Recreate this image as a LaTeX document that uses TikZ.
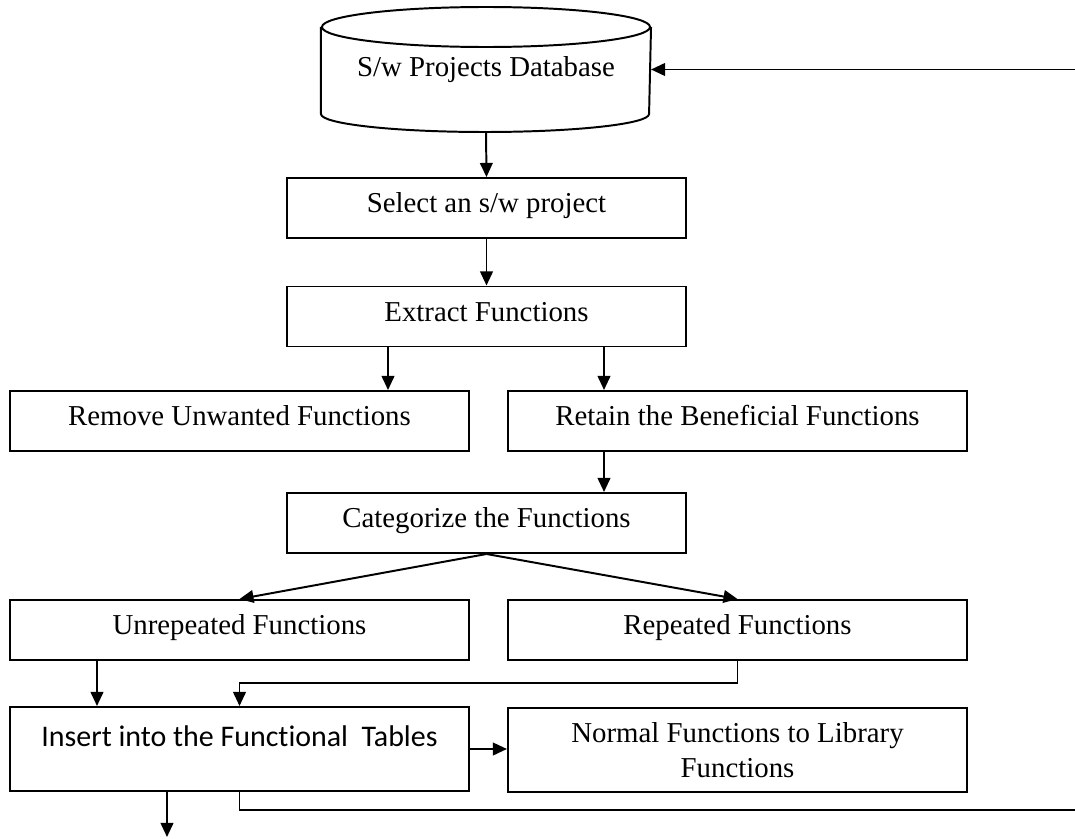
\documentclass[tikz,border=0pt]{standalone}
\usepackage{fontspec}
\setmainfont{Liberation Serif}
\newfontfamily\calibrifont[Ligatures=NoCommon]{Carlito}
\usetikzlibrary{arrows.meta,calc}

\begin{document}
\begin{tikzpicture}[
			x = 0.025cm, y = -0.025cm,
			line width = 1.4pt,
			every node/.style = {font = \fontsize{20.5}{25}\selectfont},
			procbox/.style = {draw, line width = 1.4pt, minimum height = 1.5cm, inner sep = 0pt, align = center},
			onerow/.style = {text height = 14.5pt, text depth = 8pt},
			widebox/.style = {procbox, onerow, minimum width = 11.475cm},
			midbox/.style = {procbox, onerow, minimum width = 9.975cm},
			tallbox/.style = {procbox, minimum width = 11.475cm, minimum height = 2.1cm},
			dbnode/.style = {minimum width = 8.2cm, minimum height = 3.075cm, inner sep = 0pt},
			arr/.style = {-{Triangle[length=10pt,width=9pt]}}
			]

			\useasboundingbox (0,0) rectangle (1075,839);

			% database
			\node[dbnode] (db) at (486,69.5) {S/w Projects Database};
			\draw ([yshift=-0.5cm]db.north) ellipse [x radius=4.1cm, y radius=0.5cm];
			\draw ([yshift=-0.5cm]db.north west) -- ([yshift=0.45cm]db.south west)
				arc [start angle=180, end angle=360, x radius=4.1cm, y radius=0.45cm]
				-- ([yshift=-0.5cm]db.north east);

			% steps
			\node[midbox] (sel) at (486.5,208) {Select an s/w project};
			\node[midbox] (ext) at (486.5,316.5) {Extract Functions};
			\node[widebox] (rem) at (239.5,421) {Remove Unwanted Functions};
			\node[widebox] (ret) at (737.5,421) {Retain the Beneficial Functions};
			\node[midbox] (cat) at (486.5,523) {Categorize the Functions};
			\node[widebox] (unr) at (239.5,630) {Unrepeated Functions};
			\node[widebox] (rep) at (737.5,630) {Repeated Functions};
			\node[tallbox, text height = 15pt, text depth = 18pt,
				font = \calibrifont\fontsize{21.3}{26}\selectfont] (ins) at (239.5,749) {Insert into the Functional~~Tables};
			\node[tallbox] (nor) at (737.5,750) {Normal Functions to Library\\Functions};

			% helper points
			\coordinate (xa) at (388,0);
			\coordinate (xb) at (604,0);
			\coordinate (xc) at (97,0);
			\coordinate (ya) at (0,683);
			\coordinate (stop) at (167,837);
			\coordinate (fbout) at (1075,810);
			\coordinate (fbin) at (1075,69.5);

			\draw[arr] (db.south) -- (sel.north);
			\draw[arr] (sel.south) -- (ext.north);
			\draw[arr] (ext.south -| xa) -- (rem.north -| xa);
			\draw[arr] (ext.south -| xb) -- (ret.north -| xb);
			\draw[arr] (ret.south -| xb) -- (cat.north -| xb);
			\draw[arr] (cat.south) -- (unr.north);
			\draw[arr] (cat.south) -- (rep.north);
			\draw[arr] (unr.south -| xc) -- (ins.north -| xc);
			\draw[arr] (rep.south) -- (rep.south |- ya) -| (ins.north);
			\draw[arr] (ins.east) -- (ins.east -| nor.west);
			\draw[arr] (ins.south -| stop) -- (stop);
			\draw (ins.south) |- (fbout);
			\draw[arr] (fbin) -- (db.east);

		\end{tikzpicture}
\end{document}
